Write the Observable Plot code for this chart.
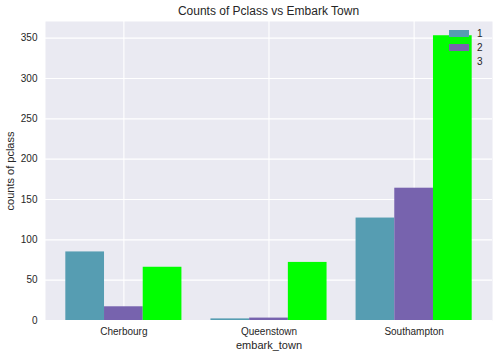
<!DOCTYPE html>
<html>
<head>
<meta charset="utf-8">
<script src="https://cdn.jsdelivr.net/npm/d3@7"></script>
<script src="https://cdn.jsdelivr.net/npm/@observablehq/plot@0.6"></script>
<style>
  html, body { margin: 0; padding: 0; background: #fff; }
  #wrap { position: relative; width: 498px; height: 357px; font-family: "Liberation Sans", Arial, sans-serif; color: #262626; }
  #title { height: 18px; line-height: 18px; font-size: 12px; text-align: center; padding-left: 45px; padding-right: 6px; box-sizing: border-box; width: 498px; padding-top: 2px; }
  #legend { position: absolute; left: 449px; top: 26px; font-size: 10px; }
  #legend .row { display: flex; align-items: center; height: 14.2px; }
  #legend .sw { width: 20px; height: 7px; margin-right: 8px; }
</style>
</head>
<body>
<div id="wrap">
  <div id="title">Counts of Pclass vs Embark Town</div>
  <div id="chart"></div>
  <div id="legend"></div>
</div>
<script>
const towns = ["Cherbourg", "Queenstown", "Southampton"];
const classes = ["1", "2", "3"];
const class1 = [85, 2, 127];
const class2 = [17, 3, 164];
const class3 = [66, 72, 353];
const colors = ["#569db2", "#7763ae", "#00ff00"];
const yTicks = [0, 50, 100, 150, 200, 250, 300, 350];

const series = [class1, class2, class3];
const groupWidth = 0.8;
const w = groupWidth / classes.length;
const rows = [];
towns.forEach((t, ti) => {
  classes.forEach((c, ci) => {
    const x1 = ti - groupWidth / 2 + ci * w;
    rows.push({town: t, pclass: c, x1, x2: x1 + w, count: series[ci][ti]});
  });
});
const townIdx = towns.map((_, i) => i);

const plot = Plot.plot({
  width: 498,
  height: 339,
  marginLeft: 45,
  marginRight: 6,
  marginTop: 3,
  marginBottom: 37,
  style: {fontFamily: "'Liberation Sans', Arial, sans-serif", fontSize: "10px", color: "#262626", background: "white"},
  x: {
    type: "linear",
    domain: [-0.54, 2.54],
    ticks: townIdx,
    tickFormat: i => towns[i],
    tickSize: 0,
    tickPadding: 7,
    label: "embark_town",
    labelArrow: false,
    labelAnchor: "center",
    labelOffset: 28
  },
  y: {
    domain: [0, 370.65],
    ticks: yTicks,
    tickSize: 0,
    tickPadding: 8,
    label: "counts of pclass",
    labelArrow: false,
    labelAnchor: "center",
    labelOffset: 39
  },
  color: {domain: classes, range: colors},
  marks: [
    Plot.frame({fill: "#eaeaf2", stroke: "none"}),
    Plot.ruleY(yTicks, {stroke: "white", strokeWidth: 1.1}),
    Plot.ruleX(townIdx, {stroke: "white", strokeWidth: 1.1}),
    Plot.rectY(rows, {x1: "x1", x2: "x2", y: "count", fill: "pclass"})
  ]
});
d3.select(plot).selectAll('g[aria-label$="axis label"]').attr("font-size", 11);
document.getElementById("chart").appendChild(plot);

const leg = document.getElementById("legend");
const cs = plot.scale("color");
classes.forEach(c => {
  const r = document.createElement("div");
  r.className = "row";
  const s = document.createElement("div");
  s.className = "sw";
  s.style.background = cs.apply(c);
  const l = document.createElement("span");
  l.textContent = c;
  r.appendChild(s); r.appendChild(l);
  leg.appendChild(r);
});
</script>
</body>
</html>
